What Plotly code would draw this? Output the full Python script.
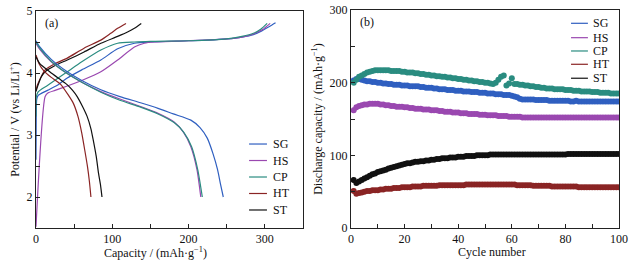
import plotly.graph_objects as go

# ---------------- Panel (a): charge/discharge profiles ----------------
names = ["SG", "HS", "CP", "HT", "ST"]
colors = ["#2f5fc0", "#9a48b0", "#2a8c80", "#8a2424", "#111111"]

sg_chg_cap = [0, 0.3, 1, 3, 15, 30, 41, 60, 85, 107, 129, 150, 175, 200, 225, 250, 270, 285, 296, 306, 314]
sg_chg_v = [2.6, 3.3, 3.58, 3.64, 3.72, 3.82, 3.92, 4.05, 4.21, 4.39, 4.48, 4.5, 4.51, 4.52, 4.53, 4.55, 4.58, 4.62, 4.68, 4.75, 4.81]
hs_chg_cap = [0, 12, 16, 25, 41, 60, 85, 107, 129, 142, 155, 200, 250, 270, 285, 297, 307]
hs_chg_v = [1.52, 3.62, 3.68, 3.72, 3.79, 3.88, 4.02, 4.21, 4.42, 4.48, 4.5, 4.52, 4.55, 4.58, 4.63, 4.7, 4.8]
cp_chg_cap = [0, 0.5, 3, 15, 41, 60, 85, 107, 129, 150, 200, 250, 270, 285, 295, 303]
cp_chg_v = [3.3, 3.62, 3.7, 3.8, 4.02, 4.18, 4.37, 4.48, 4.5, 4.51, 4.52, 4.55, 4.59, 4.64, 4.71, 4.8]
ht_chg_cap = [0, 2, 12, 25, 41, 63, 85, 98, 107, 118]
ht_chg_v = [3.72, 3.81, 4.05, 4.15, 4.24, 4.4, 4.53, 4.64, 4.72, 4.8]
st_chg_cap = [0, 2, 7, 12, 25, 41, 63, 85, 107, 120, 129, 138]
st_chg_v = [3.7, 3.78, 3.94, 4.02, 4.12, 4.21, 4.34, 4.48, 4.59, 4.66, 4.72, 4.8]

sg_dis_cap = [0, 5, 20, 41, 60, 85, 110, 137, 160, 180, 203, 215, 224.5, 232, 238, 242, 245.5]
sg_dis_v = [4.52, 4.42, 4.22, 4.02, 3.88, 3.73, 3.62, 3.52, 3.43, 3.34, 3.24, 3.12, 2.95, 2.7, 2.44, 2.2, 2.0]
hs_dis_cap = [0, 5, 20, 41, 60, 85, 110, 137, 160, 181, 193, 203, 211, 216]
hs_dis_v = [4.48, 4.38, 4.18, 3.99, 3.85, 3.7, 3.58, 3.46, 3.35, 3.21, 3.05, 2.81, 2.44, 2.0]
cp_dis_cap = [0, 5, 20, 41, 60, 85, 110, 137, 160, 181, 194, 204, 212, 218]
cp_dis_v = [4.5, 4.4, 4.19, 3.99, 3.85, 3.69, 3.56, 3.45, 3.34, 3.2, 3.04, 2.81, 2.44, 2.0]
ht_dis_cap = [0, 4, 10, 20, 32, 42, 49, 55, 60, 64, 67.5, 70, 72]
ht_dis_v = [4.29, 4.15, 4.04, 3.93, 3.82, 3.65, 3.51, 3.3, 3.03, 2.75, 2.49, 2.25, 2.0]
st_dis_cap = [0, 5, 18, 30, 40, 48, 54, 61, 67, 72, 75, 79, 82, 84.5, 86.5]
st_dis_v = [4.26, 4.15, 4.02, 3.91, 3.82, 3.72, 3.62, 3.46, 3.3, 3.1, 2.92, 2.65, 2.38, 2.2, 2.0]

charge = [(sg_chg_cap, sg_chg_v), (hs_chg_cap, hs_chg_v), (cp_chg_cap, cp_chg_v),
          (ht_chg_cap, ht_chg_v), (st_chg_cap, st_chg_v)]
discharge = [(sg_dis_cap, sg_dis_v), (hs_dis_cap, hs_dis_v), (cp_dis_cap, cp_dis_v),
             (ht_dis_cap, ht_dis_v), (st_dis_cap, st_dis_v)]

# ---------------- Panel (b): cycling ----------------
cycles = list(range(1, 101))
sg_cyc = [203, 205, 205, 204, 203, 202, 202, 201, 201, 200,
          200, 199, 199, 198, 198, 197, 197, 197, 196, 196,
          196, 195, 195, 195, 195, 194, 194, 193, 193, 193,
          192, 192, 191, 191, 191, 190, 190, 190, 189, 189,
          189, 188, 188, 188, 187, 187, 187, 186, 186, 186,
          185, 185, 185, 184, 184, 184, 183, 183, 183, 182,
          181, 180, 178, 177, 177, 177, 177, 177, 176, 176,
          176, 176, 176, 175, 175, 175, 175, 175, 175, 175,
          175, 174, 174, 175, 174, 174, 174, 174, 174, 174,
          174, 174, 174, 174, 174, 174, 174, 174, 174, 174]
hs_cyc = [162, 166, 168, 169, 170, 170, 171, 171, 171, 171,
          170, 170, 169, 169, 168, 168, 167, 167, 167, 166,
          166, 165, 165, 164, 164, 164, 163, 163, 163, 162,
          162, 162, 161, 161, 160, 160, 160, 159, 159, 159,
          158, 158, 158, 157, 157, 157, 157, 156, 156, 156,
          155, 155, 155, 155, 154, 154, 154, 154, 153, 153,
          153, 153, 153, 152, 152, 152, 152, 152, 152, 152,
          152, 152, 152, 152, 152, 152, 152, 152, 152, 152,
          152, 152, 152, 152, 152, 152, 152, 152, 152, 152,
          152, 152, 152, 152, 152, 152, 152, 152, 152, 152]
cp_cyc = [200, 204, 208, 210, 212, 214, 215, 216, 217, 217,
          217, 217, 217, 217, 216, 216, 216, 216, 215, 215,
          214, 214, 214, 213, 213, 212, 212, 211, 211, 210,
          210, 209, 209, 208, 208, 207, 207, 206, 206, 205,
          205, 204, 204, 203, 203, 202, 202, 201, 201, 200,
          200, 199, 198, 200, 204, 208, 210, 196, 199, 206,
          198, 198, 197, 197, 196, 196, 195, 195, 194, 194,
          193, 193, 192, 192, 192, 191, 191, 191, 191, 190,
          190, 190, 189, 189, 189, 188, 188, 188, 188, 187,
          187, 187, 186, 186, 186, 186, 185, 185, 185, 185]
ht_cyc = [51, 47, 48, 49, 50, 51, 51, 52, 52, 52,
          53, 53, 54, 54, 54, 55, 55, 55, 56, 56,
          56, 56, 57, 57, 57, 57, 58, 58, 58, 58,
          58, 58, 59, 59, 59, 59, 59, 59, 59, 59,
          59, 59, 60, 60, 60, 60, 60, 60, 60, 60,
          60, 60, 60, 60, 60, 60, 60, 60, 60, 60,
          60, 59, 59, 59, 59, 59, 59, 58, 58, 58,
          58, 58, 58, 58, 57, 57, 57, 57, 57, 57,
          57, 57, 57, 57, 56, 56, 56, 56, 56, 56,
          56, 56, 56, 56, 56, 56, 56, 56, 56, 56]
st_cyc = [66, 62, 64, 66, 68, 70, 72, 74, 75, 77,
          78, 79, 80, 82, 83, 84, 85, 86, 87, 88,
          89, 89, 90, 91, 91, 92, 92, 93, 93, 94,
          94, 95, 95, 96, 96, 96, 97, 97, 97, 98,
          98, 98, 99, 99, 99, 99, 100, 100, 100, 100,
          100, 101, 101, 101, 101, 101, 101, 101, 101, 101,
          101, 101, 101, 101, 101, 101, 101, 101, 101, 101,
          101, 101, 101, 101, 101, 101, 101, 101, 101, 101,
          102, 102, 102, 102, 102, 102, 102, 102, 102, 102,
          102, 102, 102, 102, 102, 102, 102, 102, 102, 102]
cyc_series = [sg_cyc, hs_cyc, cp_cyc, ht_cyc, st_cyc]

FONT = "Liberation Serif, Times New Roman, serif"
fig = go.Figure()

for (cap, v), c in zip(charge, colors):
    fig.add_trace(go.Scatter(x=cap, y=v, mode="lines", line=dict(color=c, width=1.2, shape="spline", smoothing=0.6),
                             showlegend=False, xaxis="x", yaxis="y"))
for (cap, v), c in zip(discharge, colors):
    fig.add_trace(go.Scatter(x=cap, y=v, mode="lines", line=dict(color=c, width=1.2, shape="spline", smoothing=0.6),
                             showlegend=False, xaxis="x", yaxis="y"))
for ys, c in zip(cyc_series, colors):
    fig.add_trace(go.Scatter(x=cycles, y=ys, mode="markers", marker=dict(color=c, size=6, line=dict(width=0)),
                             showlegend=False, xaxis="x2", yaxis="y2"))

axis_common = dict(showline=True, linecolor="#222", linewidth=1, mirror=True, ticks="inside",
                   ticklen=4, tickwidth=1, tickcolor="#222", showgrid=False, zeroline=False,
                   tickfont=dict(family=FONT, size=12, color="#111"), automargin=False)

fig.update_layout(
    width=638, height=261, margin=dict(l=0, r=0, t=0, b=0),
    paper_bgcolor="white", plot_bgcolor="white",
    font=dict(family=FONT, size=12, color="#111"),
    xaxis=dict(domain=[36/638, 303/638], range=[0, 350], dtick=100,
               minor=dict(dtick=50, ticks="inside", ticklen=4, tickcolor="#222"),
               anchor="y", **axis_common),
    yaxis=dict(domain=[33/261, 250/261], range=[1.5, 5], dtick=1,
               minor=dict(dtick=0.5, ticks="inside", ticklen=4, tickcolor="#222"),
               title=dict(text="Potential / V (vs Li/Li<sup>+</sup>)", font=dict(family=FONT, size=12), standoff=4),
               anchor="x", **axis_common),
    xaxis2=dict(domain=[351/638, 619/638], range=[0, 100], dtick=20,
                minor=dict(dtick=10, ticks="inside", ticklen=4, tickcolor="#222"),
                anchor="y2", **axis_common),
    yaxis2=dict(domain=[33/261, 251/261], range=[0, 300], dtick=100,
                minor=dict(dtick=50, ticks="inside", ticklen=4, tickcolor="#222"),
                title=dict(text="Discharge capacity / (mAh·g<sup>−1</sup>)", font=dict(family=FONT, size=12), standoff=4),
                anchor="x2", **axis_common),
)

# x-axis titles (placed as in the reference)
fig.add_annotation(xref="paper", yref="paper", x=155.5/638, y=1-252/261, text="Capacity / (mAh·g<sup>−1</sup>)",
                   showarrow=False, xanchor="center", yanchor="middle", font=dict(family=FONT, size=12, color="#111"))
fig.add_annotation(xref="paper", yref="paper", x=491.5/638, y=1-252/261, text="Cycle number",
                   showarrow=False, xanchor="center", yanchor="middle", font=dict(family=FONT, size=12, color="#111"))

# Custom legends (line samples + labels)
legend_a_y = [0.387, 0.311, 0.235, 0.159, 0.083]
legend_b_y = [0.939, 0.873, 0.812, 0.751, 0.687]
for name, c, ya, yb in zip(names, colors, legend_a_y, legend_b_y):
    fig.add_shape(type="line", xref="x domain", yref="y domain", x0=0.798, x1=0.865, y0=ya, y1=ya,
                  line=dict(color=c, width=1.2))
    fig.add_annotation(xref="x domain", yref="y domain", x=0.88, y=ya, text=name, showarrow=False,
                       xanchor="left", yanchor="middle", font=dict(family=FONT, size=12, color="#111"))
    fig.add_shape(type="line", xref="x2 domain", yref="y2 domain", x0=0.821, x1=0.884, y0=yb, y1=yb,
                  line=dict(color=c, width=1.2))
    fig.add_annotation(xref="x2 domain", yref="y2 domain", x=0.896, y=yb, text=name, showarrow=False,
                       xanchor="left", yanchor="middle", font=dict(family=FONT, size=12, color="#111"))

fig.add_annotation(xref="x domain", yref="y domain", x=0.025, y=0.945, text="(a)", showarrow=False,
                   xanchor="left", yanchor="middle", font=dict(family=FONT, size=12, color="#111"))
fig.add_annotation(xref="x2 domain", yref="y2 domain", x=0.025, y=0.945, text="(b)", showarrow=False,
                   xanchor="left", yanchor="middle", font=dict(family=FONT, size=12, color="#111"))

fig.write_html("out.html", config={"displayModeBar": False},
               post_script="document.body.style.margin='0';document.body.style.padding='0';")
